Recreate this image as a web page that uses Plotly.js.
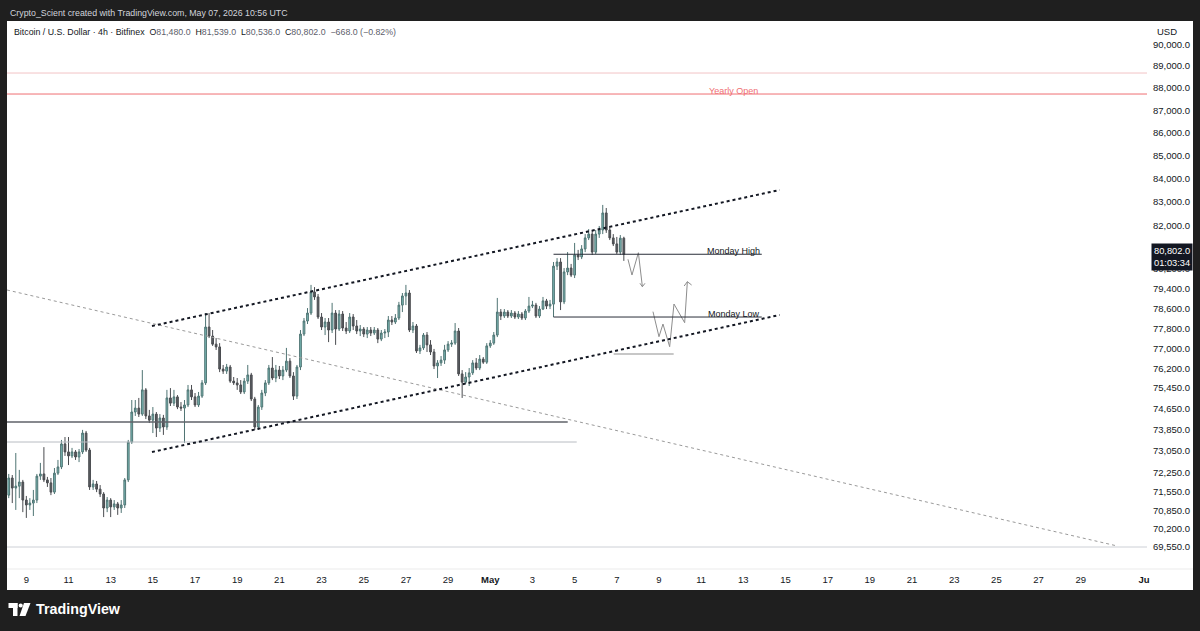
<!DOCTYPE html>
<html>
<head>
<meta charset="utf-8">
<script src="https://cdn.plot.ly/plotly-3.0.1.min.js"></script>
<style>html,body{margin:0;padding:0;background:#1f1f1f;}#chart{width:1200px;height:631px;}</style>
</head>
<body>
<div id="chart"></div>
<script>
// ---------- DATA (4h candles, Bitfinex BTC/USD) ----------
const firstCandle = '2026-04-08T04:00:00Z';
const candleHours = 4;

const open = [71420,72050,71680,71750,71900,71240,71060,71130,71240,72120,72200,71980,71870,71530,72230,72460,73320,73020,72870,73020,72830,73020,73730,73090,71720,71830,71640,71460,70950,71240,70990,71100,70950,71060,71980,73390,74530,74680,74450,75380,74380,74220,74450,73920,74300,73960,75070,74870,75110,74720,74680,74800,75380,75110,74800,75140,75650,77850,77490,77170,77060,76190,76110,76270,75720,75650,75570,75300,75720,75960,75030,73960,74720,75260,75650,76230,75840,76150,75920,76150,76500,75920,75140,76270,77570,78090,78410,79260,79060,78250,77850,78050,77730,78410,77770,78370,77810,77690,78250,77890,77690,77770,77570,77730,77610,77730,77370,77610,77650,78130,78050,78210,78730,79100,79220,77730,77890,76900,77020,77530,77140,76860,76310,76430,76540,76940,77170,77210,77690,76000,75680,75880,76040,76430,76230,76580,76460,77100,77210,77530,78450,78290,78450,78290,78410,78250,78370,78210,78490,78690,78730,78290,78570,78900,78690,78770,80320,80490,78860,80080,80240,79950,80780,80700,81030,81490,81650,80900,81650,81820,82540,81820,81490,81240,80900,81480];
const high = [72200,72160,72980,72350,71980,71390,71310,71610,72200,72610,73200,72090,72050,72420,72720,73470,73580,73580,73170,73090,73130,73850,73810,73170,71980,71940,71790,71530,71350,71310,71240,71170,71240,72050,73470,74990,74990,75070,76150,75450,74610,74720,74530,74450,74420,75380,75450,75380,75180,74910,74990,75570,75570,75260,75300,75760,78410,78410,77730,77410,77210,76350,76390,76350,75880,75840,75760,75840,76350,76040,75110,74800,75380,75760,76350,76660,76350,76310,76310,77020,76620,76070,76350,77730,78210,78610,79550,79460,79180,78410,78210,78210,78820,78530,78530,78490,78050,78410,78370,78130,77930,77850,77850,77850,77850,77810,77730,77770,78290,78290,78370,78860,79220,79550,79340,78050,77970,77140,77610,77650,77330,76980,76540,76700,77140,77290,77330,78010,77810,76150,76070,76230,76540,76620,76740,76660,77210,77330,77650,79020,78570,78570,78530,78530,78490,78490,78450,78570,79060,78900,78820,78690,79060,78980,78940,80490,80650,80650,80240,80900,80410,81280,80990,81190,81650,81860,81820,81820,81990,82880,82750,81990,81650,81530,81610,81539];
const low = [71310,71130,70880,71310,70800,70590,70880,70660,71130,71980,71900,71720,71420,71460,72160,72380,72870,72530,72790,72720,72640,72940,73020,71610,71610,71530,71350,70620,70800,70620,70880,70700,70770,70950,71900,73320,74380,74340,74380,74260,74110,73730,73580,73770,73660,73850,74760,74760,74640,74570,73360,74720,74990,74720,74720,75070,75570,77410,77100,76940,76070,76000,76000,75650,75570,75380,75220,75220,75610,74950,73850,73850,74610,75140,75570,75760,75680,75800,75760,76070,75840,74990,75030,76150,77490,77970,78330,78940,78170,77730,77530,77250,77610,77140,77690,77690,77570,77610,77730,77570,77490,77450,77410,77490,77530,77210,77290,77410,77450,77930,77970,78130,78450,78730,77650,77610,76820,76780,76940,76860,76740,76190,75840,76310,76390,76860,77060,77140,75920,75070,75610,75530,75960,76150,76150,76390,76390,77020,77140,77450,78130,78210,78210,78210,78170,78170,78130,78130,78410,78610,78210,78210,78530,78570,78570,78250,80160,78530,78770,79950,79870,79830,80570,80610,80900,81400,80780,80820,81490,81650,81700,81400,81150,80820,80780,80536];
const close = [72050,71680,71750,71900,71240,71060,71130,71240,72120,72200,71980,71870,71530,72230,72460,73320,73020,72870,73020,72830,73020,73730,73090,71720,71830,71640,71460,70950,71240,70990,71100,70950,71060,71980,73390,74530,74680,74450,75380,74380,74220,74450,73920,74300,73960,75070,74870,75110,74720,74680,74800,75380,75110,74800,75140,75650,77850,77490,77170,77060,76190,76110,76270,75720,75650,75570,75300,75720,75960,75030,73960,74720,75260,75650,76230,75840,76150,75920,76150,76500,75920,75140,76270,77570,78090,78410,79260,79060,78250,77850,78050,77730,78410,77770,78370,77810,77690,78250,77890,77690,77770,77570,77730,77610,77730,77370,77610,77650,78130,78050,78210,78730,79100,79220,77730,77890,76900,77020,77530,77140,76860,76310,76430,76540,76940,77170,77210,77690,76000,75680,75880,76040,76430,76230,76580,76460,77100,77210,77530,78450,78290,78450,78290,78410,78250,78370,78210,78490,78690,78730,78290,78570,78900,78690,78770,80320,80490,78860,80080,80240,79950,80780,80700,81030,81490,81650,80900,81650,81820,82540,81820,81490,81240,80900,81480,80802];

const xTickVals = ['2026-04-09','2026-04-11','2026-04-13','2026-04-15','2026-04-17','2026-04-19','2026-04-21','2026-04-23','2026-04-25','2026-04-27','2026-04-29','2026-05-01','2026-05-03','2026-05-05','2026-05-07','2026-05-09','2026-05-11','2026-05-13','2026-05-15','2026-05-17','2026-05-19','2026-05-21','2026-05-23','2026-05-25','2026-05-27','2026-05-29','2026-06-01'];
const xTickText = ['9','11','13','15','17','19','21','23','25','27','29','<b>May</b>','3','5','7','9','11','13','15','17','19','21','23','25','27','29','<b>Ju</b>'];
const yTickVals = [69550,70200,70850,71550,72250,73050,73850,74650,75450,76200,77000,77800,78600,79400,80200,81000,82000,83000,84000,85000,86000,87000,88000,89000,90000];
const yTickText = ['69,550.0','70,200.0','70,850.0','71,550.0','72,250.0','73,050.0','73,850.0','74,650.0','75,450.0','76,200.0','77,000.0','77,800.0','78,600.0','79,400.0','80,200.0','81,000.0','82,000.0','83,000.0','84,000.0','85,000.0','86,000.0','87,000.0','88,000.0','89,000.0','90,000.0'];

// drawings (date, price)
const yearlyOpen = 87730;
const topLevel = 88680;
const bottomLevel = 69545;
const mondayHigh = 80810;
const mondayLow = 78250;
const supportDark = 74150;
const supportLight = 73392;
const targetLevel = 76780;
const channelStart = '2026-04-14 23:00', channelEnd = '2026-05-14 17:17';
const channelUpper = [77890, 83517];
const channelLower = [73016, 78332];
const trendStart = '2026-04-08 02:00', trendEnd = '2026-05-30 17:45';
const trendPrices = [79342, 69580];
const path1X = ['2026-05-07 12:44','2026-05-07 17:17','2026-05-08 00:34','2026-05-08 05:07'];
const path1Y = [80601,79954,80874,79476];
const head1X = ['2026-05-08 02:23','2026-05-08 05:07','2026-05-08 08:04'];
const head1Y = [79615,79476,79615];
const path2X = ['2026-05-08 17:10','2026-05-09 00:00','2026-05-09 04:33','2026-05-09 12:10','2026-05-09 17:04','2026-05-10 05:14','2026-05-10 08:18'];
const path2Y = [78466,77464,77970,77068,78774,78023,79681];
const head2X = ['2026-05-10 04:40','2026-05-10 08:18','2026-05-10 13:10'];
const head2Y = [79505,79681,79545];

// ---------- BUILD ----------
const t0 = Date.parse(firstCandle);
const times = close.map((_, i) => new Date(t0 + i * candleHours * 3600e3).toISOString().replace('T', ' ').slice(0, 16));

const FONT = '"Liberation Sans", Arial, sans-serif';
const L = 7, R = 1147, T = 22, B = 569;
const PX = px => (px - L) / (R - L);
const PY = py => (B - py) / (B - T);

const candles = {
  type: 'candlestick', x: times, open: open, high: high, low: low, close: close,
  increasing: {line: {color: '#4f7473', width: 1}, fillcolor: '#7ab8b5'},
  decreasing: {line: {color: '#4a4c50', width: 1}, fillcolor: '#5a5d61'},
  whiskerwidth: 0, hoverinfo: 'skip', showlegend: false
};
const arrowStyle = {color: '#8d8d8d', width: 1};
const arrows = [
  {type: 'scatter', mode: 'lines', x: path1X, y: path1Y, line: arrowStyle, hoverinfo: 'skip'},
  {type: 'scatter', mode: 'lines', x: head1X, y: head1Y, line: arrowStyle, hoverinfo: 'skip'},
  {type: 'scatter', mode: 'lines', x: path2X, y: path2Y, line: arrowStyle, hoverinfo: 'skip'},
  {type: 'scatter', mode: 'lines', x: head2X, y: head2Y, line: arrowStyle, hoverinfo: 'skip'}
];

function hline(y, x0, x1, color, width, dash) {
  return {type: 'line', xref: 'x', yref: 'y', x0: x0, x1: x1, y0: y, y1: y, line: {color: color, width: width, dash: dash || 'solid'}};
}
const farLeft = '2026-03-20', farRight = '2026-06-20';

const shapes = [
  {type: 'rect', xref: 'paper', yref: 'paper', x0: PX(7), x1: PX(1193), y0: PY(590), y1: PY(21), fillcolor: '#ffffff', line: {width: 0}, layer: 'below'},
  {type: 'line', xref: 'paper', yref: 'paper', x0: PX(7), x1: PX(1193), y0: 0, y1: 0, line: {color: '#ebebeb', width: 1}},
  hline(topLevel, farLeft, farRight, '#f2c4c6', 1),
  hline(yearlyOpen, farLeft, farRight, '#ef6f73', 1),
  hline(bottomLevel, farLeft, farRight, '#cdd0d6', 1),
  {type: 'line', xref: 'x', yref: 'y', x0: trendStart, x1: trendEnd, y0: trendPrices[0], y1: trendPrices[1], line: {color: '#9a9a9a', width: 1, dash: 'dot'}},
  hline(supportDark, farLeft, '2026-05-04 16:09', '#5f6268', 1.5),
  hline(supportLight, farLeft, '2026-05-05 02:24', '#b8bcc2', 1),
  {type: 'line', xref: 'x', yref: 'y', x0: channelStart, x1: channelEnd, y0: channelUpper[0], y1: channelUpper[1], line: {color: '#131722', width: 2, dash: 'dot'}},
  {type: 'line', xref: 'x', yref: 'y', x0: channelStart, x1: channelEnd, y0: channelLower[0], y1: channelLower[1], line: {color: '#131722', width: 2, dash: 'dot'}},
  hline(mondayHigh, '2026-05-04 00:00', '2026-05-13 21:00', '#2a2e39', 1),
  hline(mondayLow, '2026-05-04 00:00', '2026-05-13 21:00', '#2a2e39', 1),
  hline(targetLevel, '2026-05-06 20:28', '2026-05-09 16:42', '#b4b4b4', 1.5),
  // TradingView logo
  {type: 'rect', xref: 'paper', yref: 'paper', x0: PX(8.5), x1: PX(17.5), y0: PY(608), y1: PY(603), fillcolor: '#ffffff', line: {width: 0}},
  {type: 'rect', xref: 'paper', yref: 'paper', x0: PX(13), x1: PX(17.5), y0: PY(616), y1: PY(603), fillcolor: '#ffffff', line: {width: 0}},
  {type: 'circle', xref: 'paper', yref: 'paper', x0: PX(18.6), x1: PX(22.8), y0: PY(607.6), y1: PY(603.4), fillcolor: '#ffffff', line: {width: 0}},
  {type: 'path', xref: 'paper', yref: 'paper', path: `M${PX(24)},${PY(603)} L${PX(30.5)},${PY(603)} L${PX(25.5)},${PY(616)} L${PX(19.5)},${PY(616)} Z`, fillcolor: '#ffffff', line: {width: 0}}
];

const legendHTML = '<span style="color:#131722">Bitcoin / U.S. Dollar · 4h · Bitfinex</span>  ' +
  '<span style="color:#131722">O</span><span style="color:#5d606b">81,480.0</span>  ' +
  '<span style="color:#131722">H</span><span style="color:#5d606b">81,539.0</span>  ' +
  '<span style="color:#131722">L</span><span style="color:#5d606b">80,536.0</span>  ' +
  '<span style="color:#131722">C</span><span style="color:#5d606b">80,802.0</span>  ' +
  '<span style="color:#5d606b">−668.0 (−0.82%)</span>';

const annotations = [
  {xref: 'paper', yref: 'paper', x: PX(8), y: PY(13), xanchor: 'left', yanchor: 'middle', showarrow: false,
   text: 'Crypto_Scient created with TradingView.com, May 07, 2026 10:56 UTC', font: {family: FONT, size: 8.8, color: '#d1d4dc'}},
  {xref: 'paper', yref: 'paper', x: PX(12), y: PY(32), xanchor: 'left', yanchor: 'middle', showarrow: false,
   text: legendHTML, font: {family: FONT, size: 8.8, color: '#131722'}},
  {xref: 'paper', yref: 'paper', x: PX(1167), y: PY(31), xanchor: 'center', yanchor: 'middle', showarrow: false,
   text: 'USD', font: {family: FONT, size: 9.5, color: '#131722'}},
  {xref: 'x', yref: 'y', x: '2026-05-12 13:00', y: Math.log10(87866), xanchor: 'center', yanchor: 'middle', showarrow: false,
   text: 'Yearly Open', font: {family: FONT, size: 9, color: '#ef6f73'}},
  {xref: 'x', yref: 'y', x: '2026-05-12 13:00', y: Math.log10(80945), xanchor: 'center', yanchor: 'middle', showarrow: false,
   text: 'Monday High', font: {family: FONT, size: 9, color: '#131722'}},
  {xref: 'x', yref: 'y', x: '2026-05-12 13:00', y: Math.log10(78372), xanchor: 'center', yanchor: 'middle', showarrow: false,
   text: 'Monday Low', font: {family: FONT, size: 9, color: '#131722'}},
  {xref: 'paper', yref: 'y', x: PX(1151), y: Math.log10(close[close.length - 1]), xanchor: 'left', yanchor: 'middle', yshift: -3,
   showarrow: false, align: 'left', bgcolor: '#131722', borderpad: 2,
   text: '80,802.0<br>01:03:34', font: {family: FONT, size: 9.3, color: '#ffffff'}},
  {xref: 'paper', yref: 'paper', x: PX(34), y: PY(609), xanchor: 'left', yanchor: 'middle', showarrow: false,
   text: '<b>TradingView</b>', font: {family: FONT, size: 14.3, color: '#ffffff'}}
];

const layout = {
  width: 1200, height: 631,
  margin: {l: L, r: 1200 - R, t: T, b: 631 - B, pad: 0},
  paper_bgcolor: '#1f1f1f', plot_bgcolor: '#ffffff',
  showlegend: false, dragmode: false,
  font: {family: FONT, color: '#131722'},
  xaxis: {
    type: 'date', range: ['2026-04-08 02:00', '2026-06-01 03:25'],
    tickmode: 'array', tickvals: xTickVals, ticktext: xTickText,
    showgrid: false, zeroline: false, showline: false, ticks: '',
    tickfont: {family: FONT, size: 9.5, color: '#131722'}, ticklabelstandoff: 3,
    rangeslider: {visible: false}, automargin: false, fixedrange: true
  },
  yaxis: {
    type: 'log', range: [Math.log10(68765), Math.log10(91031)], side: 'right',
    tickmode: 'array', tickvals: yTickVals, ticktext: yTickText,
    showgrid: false, zeroline: false, showline: false, ticks: '',
    tickfont: {family: FONT, size: 9.5, color: '#131722'}, ticklabelstandoff: 5,
    automargin: false, fixedrange: true
  },
  shapes: shapes,
  annotations: annotations
};

Plotly.newPlot('chart', [candles].concat(arrows), layout, {staticPlot: true, displayModeBar: false});
</script>
</body>
</html>
